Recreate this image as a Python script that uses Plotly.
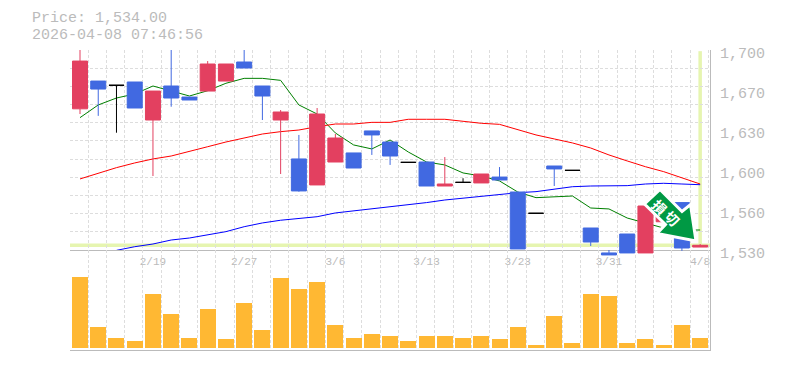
import numpy as np
import plotly.graph_objects as go

# ---- data ----
index = list(range(35))
opens = [1650, 1673.6, 1670, 1672.8, 1640.5, 1669.4, 1660, 1665.1, 1673.6, 1689.8, 1669.4, 1640.5,
         1607.4, 1585.3, 1604.8, 1612.5, 1631.2, 1621.8, 1604.5, 1604.8, 1584.4, 1587.5, 1587, 1592,
         1579.3, 1561.2, 1601.4, 1597.7, 1548.7, 1527.5, 1543.6, 1527.5, 1554, 1570.3, 1532.5]
closes = [1690.6, 1666.8, 1670, 1650.7, 1665.1, 1659.2, 1657.5, 1688.1, 1688.1, 1684.7, 1660.9, 1647.3,
          1580.2, 1645.6, 1625.2, 1599.7, 1627.8, 1609.9, 1604.5, 1584.4, 1586.1, 1587.5, 1594.6, 1589.5,
          1530.9, 1561.2, 1598.9, 1597.7, 1536.8, 1525.8, 1527.5, 1567.4, 1568, 1531.7, 1534]
highs = [1705, 1673.6, 1670, 1672.8, 1665.1, 1705, 1660, 1690.6, 1688.1, 1705, 1669.4, 1649,
         1627.8, 1650.7, 1628.6, 1612.5, 1631.2, 1621.8, 1604.5, 1604.8, 1609, 1591, 1594.6, 1600.5,
         1579.3, 1561.2, 1601.4, 1597.7, 1548.7, 1530, 1543.6, 1567.4, 1568, 1570.3, 1535.1]
lows = [1645.6, 1644, 1629.7, 1650.7, 1592.9, 1651.8, 1657.5, 1665.1, 1673.6, 1684.7, 1640.5, 1594.6,
        1579.6, 1585.3, 1604.8, 1599.7, 1610.8, 1602.3, 1604.5, 1584.4, 1584.4, 1587.5, 1587, 1589.5,
        1530.9, 1561.2, 1584.4, 1597.7, 1533.4, 1525.8, 1527.5, 1527.5, 1554, 1529.2, 1532.5]
ma_short = [1642.5, 1653.3, 1659.2, 1662.6, 1669.4, 1665.4, 1660.9, 1665.4, 1671.7, 1675.9, 1675.9, 1674.2,
            1653.3, 1645.6, 1629.5, 1619.3, 1615.9, 1623.5, 1613.3, 1604.8, 1602.3, 1595.5, 1592.9, 1588.7,
            1579.3, 1574.5, 1575.1, 1575.9, 1565.7, 1564.9, 1557.2, 1553, 1548.7, 1547, 1547]
ma_mid = [1590.4, 1595.5, 1600, 1604, 1607.4, 1609.9, 1613.6, 1617.8, 1621.8, 1625.5, 1628.6, 1630.6,
          1632, 1634.8, 1637.1, 1637.1, 1638.5, 1638.5, 1641.1, 1641.1, 1641.1, 1639.4, 1637.7, 1636.8,
          1632.6, 1627.8, 1624.4, 1621, 1616.7, 1610.8, 1605.7, 1600.8, 1596.6, 1591.5, 1586.1]
ma_long = [None, None, 1529.7, 1532.8, 1535.1, 1538.5, 1540.2, 1543, 1545.6, 1549.8, 1553, 1555.3,
           1557, 1558.3, 1561.5, 1563.2, 1565.4, 1566.6, 1568.5, 1570.3, 1572.5, 1574, 1575.9, 1577,
           1578.7, 1579.6, 1581.6, 1583.8, 1584.4, 1584.4, 1584.7, 1586.1, 1586.7, 1586.1, 1585.5]
volumes = [71, 21, 10, 7, 54, 34, 10, 39, 9, 45, 18, 70, 59, 66, 23, 10, 14, 12, 7, 12, 12, 10, 12, 9,
           21, 3, 32, 5, 54, 52, 5, 9, 3, 23, 10]
date_ticks = [4, 9, 14, 19, 24, 29, 34]
date_labels = ["2/19", "2/27", "3/6", "3/13", "3/23", "3/31", "4/8"]
price_ticks = [1700, 1666, 1632, 1598, 1564, 1530]
price_labels = ["1,700", "1,670", "1,630", "1,600", "1,560", "1,530"]
last_price = 1534
title_price = "Price: 1,534.00"
title_time = "2026-04-08 07:46:56"
stop_label = ["損", "切"]

# ---- page geometry ----
W, H = 785, 370
L, R, TOP, MID, BOT, CANDLE_BOT = 70, 710, 50, 250, 350, 256
PX_X = 18.24
X0 = 80
UNIT = 0.85  # price per pixel


def fy(p):
    return 1 - p / H


x_range = [(L - X0) / PX_X, (R - X0) / PX_X]
x_grid = [(L + PX_X * i - X0) / PX_X for i in range(36)]
y_grid = list(np.linspace(1530, 1700, 12))

UP, DOWN, FLAT = "#E34060", "#4169E1", "#000000"
GRID = "#DDDDDD"
TXT = "#BBBBBB"
MONO = "Liberation Mono, DejaVu Sans Mono, monospace"

fig = go.Figure()

for vals, col in ((ma_short, "#008000"), (ma_mid, "#FF0000"), (ma_long, "#0000FF")):
    fig.add_trace(go.Scatter(x=index, y=vals, mode="lines", line=dict(color=col, width=1),
                             xaxis="x", yaxis="y2", showlegend=False, hoverinfo="skip"))

fig.add_trace(go.Bar(x=index, y=volumes, width=16 / PX_X, marker=dict(color="#FFB833", line=dict(width=0)),
                     xaxis="x2", yaxis="y", showlegend=False, hoverinfo="skip"))


def subset(test):
    ids = [i for i in index if test(opens[i], closes[i])]
    return dict(x=ids, open=[opens[i] for i in ids], high=[highs[i] for i in ids],
                low=[lows[i] for i in ids], close=[closes[i] for i in ids])


for test, col in ((lambda o, c: c > o, UP), (lambda o, c: c < o, DOWN), (lambda o, c: c == o, FLAT)):
    side = dict(line=dict(color=col, width=1), fillcolor=col)
    fig.add_trace(go.Candlestick(**subset(test), increasing=side, decreasing=side, whiskerwidth=0,
                                 xaxis="x3", yaxis="y3", showlegend=False, hoverinfo="skip"))

grid_minor = dict(tickvals=x_grid, showgrid=True, gridcolor=GRID, griddash="3px,2px", gridwidth=1, ticklen=0)

fig.update_layout(
    width=W, height=H, margin=dict(l=0, r=0, t=0, b=0), autosize=False,
    paper_bgcolor="#FFFFFF", plot_bgcolor="rgba(0,0,0,0)", boxgap=1 - 15 / PX_X, boxgroupgap=0, bargap=0,
    showlegend=False,
    xaxis=dict(domain=[L / W, R / W], range=x_range, anchor="y2", tickmode="array", tickvals=date_ticks,
               ticktext=date_labels, showgrid=False, minor=grid_minor, showline=True, linecolor=TXT,
               linewidth=1, ticks="", zeroline=False, tickfont=dict(family=MONO, size=11, color=TXT),
               ticklabelstandoff=1, automargin=False),
    xaxis2=dict(domain=[L / W, R / W], range=x_range, anchor="y", tickmode="array", tickvals=[],
                showgrid=False, minor=grid_minor, showline=True, linecolor=TXT, linewidth=1,
                ticks="", zeroline=False, showticklabels=False, automargin=False),
    xaxis3=dict(domain=[L / W, R / W], range=x_range, anchor="y3", visible=False, automargin=False,
                rangeslider=dict(visible=False)),
    yaxis=dict(domain=[fy(BOT), fy(MID)], range=[-2, 98], anchor="x2", showgrid=False, zeroline=False,
               showticklabels=False, ticks="", side="right", showline=True, linecolor=TXT, linewidth=1,
               automargin=False),
    yaxis2=dict(domain=[fy(MID), fy(TOP)], range=[1530, 1700], anchor="x", side="right", tickmode="array",
                tickvals=price_ticks, ticktext=price_labels, showgrid=False, zeroline=False,
                minor=dict(tickvals=y_grid, showgrid=True, gridcolor=GRID, griddash="3px,2px", gridwidth=1,
                           ticklen=0),
                showline=True, linecolor=TXT, linewidth=1, ticks="", automargin=False,
                tickfont=dict(family=MONO, size=15, color=TXT), ticklabelstandoff=6, ticklabelshift=3),
    yaxis3=dict(domain=[fy(CANDLE_BOT), fy(TOP)], range=[1700 - (CANDLE_BOT - TOP) * UNIT, 1700], anchor="x3",
                visible=False, automargin=False),
)

band = "#E6F5B0"
fig.add_shape(type="line", xref="x", yref="y2", x0=x_range[0], x1=x_range[1], y0=last_price, y1=last_price,
              line=dict(color=band, width=3.5), layer="below")
fig.add_shape(type="line", xref="x", yref="y2", x0=index[-1], x1=index[-1], y0=last_price, y1=1699,
              line=dict(color=band, width=3.5), layer="below")

# stop-loss badge, placed in page pixels
badge = [(660, 189.5), (682, 211.5), (690.5, 204.5), (696, 241), (657, 233.5), (665.5, 224.5), (644.5, 204)]
path = "M " + " L ".join(f"{px / W:.5f} {1 - py / H:.5f}" for px, py in badge) + " Z"
fig.add_shape(type="path", xref="paper", yref="paper", path=path, fillcolor="#009944",
              line=dict(color="#FFFFFF", width=3), layer="above")

for ch, px, py in zip(stop_label, (660, 672.5), (206.5, 217.5)):
    fig.add_annotation(text="<b>" + ch + "</b>", x=px / W, y=1 - py / H, xref="paper", yref="paper", showarrow=False,
                       xanchor="center", yanchor="middle", textangle=45,
                       font=dict(family="Noto Sans CJK JP", size=14, color="#FFFFFF"))

for txt, py in ((title_price, 18.5), (title_time, 35)):
    fig.add_annotation(text=txt, x=30 / W, y=1 - py / H, xref="paper", yref="paper", xanchor="left",
                       yanchor="middle", showarrow=False, font=dict(family=MONO, size=15, color=TXT))

fig.write_html("out.html", config=dict(displayModeBar=False),
               post_script="document.documentElement.style.margin='0';document.body.style.margin='0';")
